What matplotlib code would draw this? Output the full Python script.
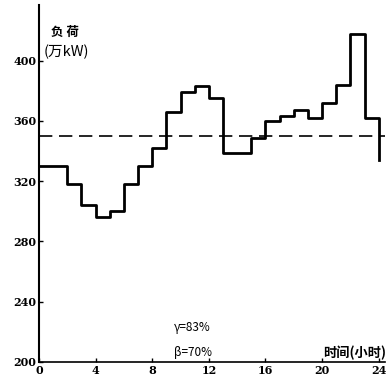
import matplotlib
matplotlib.use("Agg")
import matplotlib.pyplot as plt

# Data
hour_edges = [0, 2, 3, 4, 5, 6, 7, 8, 9, 10, 11, 12, 13, 15, 16, 17, 18, 19, 20, 21, 22, 23, 24]
loads = [330, 318, 304, 296, 300, 318, 330, 342, 366, 379, 383, 375, 339,
         349, 360, 363, 367, 362, 372, 384, 418, 362]
next_day_load = 334
avg_load = 350
x_ticks = [0, 4, 8, 12, 16, 20, 24]
y_ticks = [200, 240, 280, 320, 360, 400]

plt.rcParams['font.family'] = ['Noto Sans CJK SC', 'DejaVu Sans']

fig = plt.figure(figsize=(3.89, 3.81), dpi=100)
ax = fig.add_axes([0.100, 0.050, 0.889, 0.937])

ax.step(hour_edges, loads + [next_day_load], where='post', color='black', lw=2.0)
ax.axhline(avg_load, color='black', lw=1.2, dashes=(8, 4))

ax.set_xlim(0, 24.42)
ax.set_ylim(200, 437)
ax.set_xticks(x_ticks)
ax.set_yticks(y_ticks)
ax.tick_params(direction='in', length=3, width=1, labelsize=8, pad=2)
for lab in ax.get_xticklabels() + ax.get_yticklabels():
    lab.set_fontweight('bold')
    lab.set_family(['DejaVu Serif'])

for s in ['top', 'right']:
    ax.spines[s].set_visible(False)
ax.spines['left'].set_linewidth(1.5)
ax.spines['bottom'].set_linewidth(1.2)

ax.text(1.85, 418.5, '负 荷', fontsize=9, ha='center', va='center', fontweight='bold')
ax.text(1.95, 405.5, '(万kW)', fontsize=10.5, ha='center', va='center')
ax.text(10.8, 223, 'γ=83%', fontsize=8.5, ha='center', va='center')
ax.text(10.9, 206, 'β=70%', fontsize=8.5, ha='center', va='center')
ax.text(22.3, 206, '时间(小时)', fontsize=9.5, ha='center', va='center', fontweight='bold')

fig.savefig('out.png', dpi=100)
